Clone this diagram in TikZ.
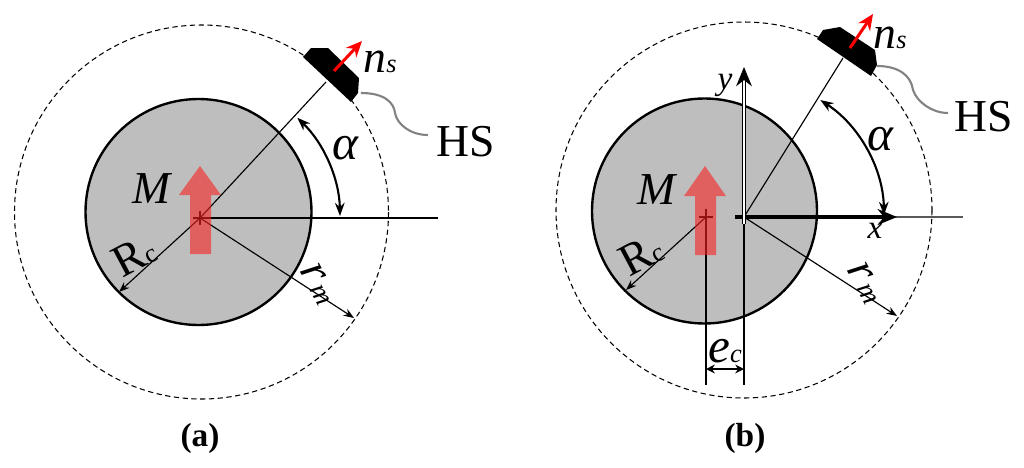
\documentclass[tikz,border=0pt]{standalone}
\usepackage{fontspec}
\setmainfont{Liberation Serif}
\usepackage{tikz}
\usetikzlibrary{arrows.meta}
\definecolor{rotor}{RGB}{190,190,190}
\definecolor{magnet}{RGB}{247,33,33}
\definecolor{wire}{RGB}{130,130,130}
\newcommand{\sz}[1]{\fontsize{#1}{#1}\selectfont}

\begin{document}
\begin{tikzpicture}[x=0.02cm,y=-0.02cm,line width=0.65pt]
	\tikzstyle{core}  = [draw=black,fill=rotor,line width=1.35pt]
	\tikzstyle{orbit} = [draw=black,dash pattern=on 3pt off 2pt,line width=0.6pt]
	\tikzstyle{dimline} = [-{Stealth[length=6pt,width=4.5pt]}]
	\tikzstyle{ang}   = [{Stealth[length=7.5pt,width=5.5pt]}-{Stealth[length=7.5pt,width=5.5pt]},line width=1.2pt]
	\tikzstyle{mag}   = [fill=magnet,opacity=0.6]
	\tikzstyle{hall}  = [fill=black]
	\tikzstyle{normal} = [-{Stealth[length=9pt,width=8pt]},draw=red,line width=1.7pt]
	\tikzstyle{lead}  = [draw=wire,line width=1.2pt]
	\tikzstyle{txt}   = [inner sep=0pt,font=\sz{26}]
	\tikzstyle{var}   = [inner sep=0pt,font=\sz{26}\itshape]
	\tikzstyle{panel} = [inner sep=0pt,font=\sz{19}\bfseries]

	\useasboundingbox (0,0) rectangle (1024,467);

	% panel a
	\coordinate (ca) at (200,218);
	\coordinate (ha) at (326,82);
	\coordinate (ea) at (438,218);
	\coordinate (ma) at (354,318);
	\coordinate (ra) at (119,292);
	\coordinate (sa) at (361,93);
	\coordinate (wa) at (428,135);

	\draw[orbit] (201.5,212) circle (187);
	\draw[core] (198.5,212) circle (113);
	\path[draw] (ca) -- (ha);
	\path[draw] (ca) -- (ea);
	\path[draw,dimline] (ca) -- (ma);
	\path[draw,dimline] (ca) -- (ra);
	\draw[line width=1.1pt] (193,218) -- (207,218) (200,211) -- (200,225);
	\fill[mag] (200,166) -- (221,195) -- (211,195) -- (211,254) -- (190,254) -- (190,195) -- (179,195) -- cycle;
	\draw[ang] (340,216) arc[start angle=-1,end angle=-46,radius=140];
	\fill[hall] (303,57) -- (311,48) -- (328,48) -- (359,78) -- (358,93) -- (351,102) -- cycle;
	\draw[normal] (334,71) -- (362,41);
	\draw[lead] (sa) .. controls (385,93) and (394,103) .. (395,113) .. controls (397,124) and (410,135) .. (wa);

	\node[var] (Ma) at (152,189) {M};
	\node[var,font=\sz{26}\itshape] (na) at (380,62) {n\sz{15}s};
	\node[var,font=\sz{28}\itshape] (aa) at (345,148) {α};
	\node[txt] (Ha) at (466,142) {HS};
	\node[txt,rotate=28] (Ra) at (134,256) {R\sz{15}c};
	\node[var,rotate=-62] (la2) at (319,284) {r\hspace{2pt}\sz{16}m};
	\node[panel] (la) at (200,438) {(a)};

	% panel b
	\coordinate (cb) at (744,217);
	\coordinate (ob) at (706,217);
	\coordinate (hb) at (843,58);
	\coordinate (eb) at (963,217);
	\coordinate (xb) at (735,217);
	\coordinate (xt) at (897,217);
	\coordinate (yb) at (744,224);
	\coordinate (yt) at (744,67);
	\coordinate (mb) at (897,316);
	\coordinate (rb) at (626,290);
	\coordinate (db) at (706,385);
	\coordinate (fb) at (744,385);
	\coordinate (sb) at (877,66);
	\coordinate (wb) at (948,113);
	\coordinate (el) at (706,369);
	\coordinate (er) at (744,369);

	\draw[orbit] (744,210) circle (188);
	\draw[core] (704.5,211) circle (112.5);
	\path[draw] (cb) -- (hb);
	\path[draw,draw=black!65,line width=1pt] (xb) -- (eb);
	\path[draw,dimline] (cb) -- (mb);
	\path[draw,dimline] (ob) -- (rb);
	\path[draw] (ob) -- (db);
	\path[draw] (cb) -- (fb);
	\draw[line width=1.1pt] (699,217) -- (713,217) (706,209) -- (706,225);
	\fill[mag] (705,166) -- (726,196) -- (716,196) -- (716,255) -- (695,255) -- (695,196) -- (684,196) -- cycle;
	\path[draw,line width=2pt,-{Stealth[length=11pt,width=9pt]}] (xb) -- (xt);
	\path[draw,double,double distance=1pt,line width=0.6pt,-{Stealth[length=11pt,width=9pt]}] (yb) -- (yt);
	\draw[ang] (884,215) arc[start angle=-1,end angle=-57,radius=140];
	\path[draw,line width=0.9pt,{Stealth[length=5pt,width=5pt]}-{Stealth[length=5pt,width=5pt]}] (el) -- (er);
	\fill[hall] (817,39) -- (823,30) -- (840,27) -- (875,50) -- (877,65) -- (871,76) -- cycle;
	\draw[normal] (850,48) -- (873,14);
	\draw[lead] (sb) .. controls (898,66) and (911,75) .. (913,90) .. controls (917,102) and (932,113) .. (wb);

	\node[var] (Mb) at (657,190) {M};
	\node[var,font=\sz{26}\itshape] (nb) at (890,38) {n\sz{15}s};
	\node[var,font=\sz{28}\itshape] (ab) at (880,139) {α};
	\node[txt] (Hb) at (984,117) {HS};
	\node[txt,rotate=28] (Rb) at (641,255) {R\sz{15}c};
	\node[var,rotate=-62] (lb2) at (866,283) {r\hspace{2pt}\sz{16}m};
	\node[var,font=\sz{19}\itshape] (xl) at (875,231) {x};
	\node[var,font=\sz{19}\itshape] (yl) at (725,85) {y};
	\node[var,font=\sz{28}\itshape] (ec) at (725,351) {e\sz{15}c};
	\node[panel] (lb) at (745,438) {(b)};
\end{tikzpicture}
\end{document}
